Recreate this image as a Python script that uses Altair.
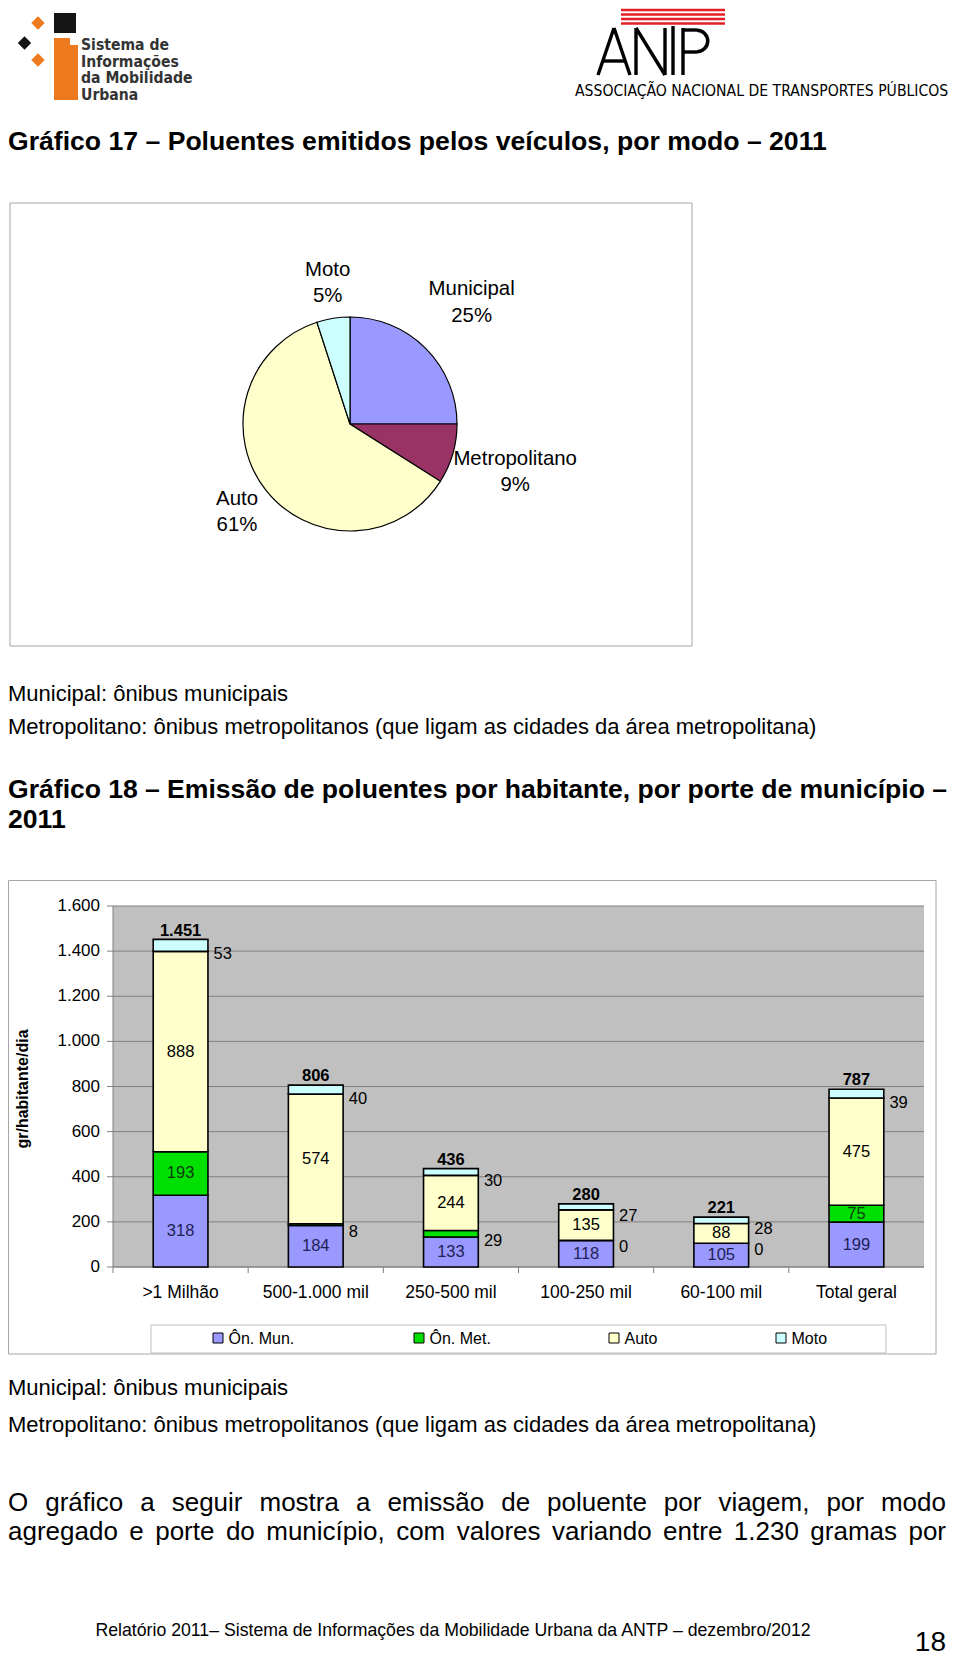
import altair as alt
import pandas as pd

# ---------------- data ----------------
pie_modes = ["Municipal", "Metropolitano", "Auto", "Moto"]
pie_share = [25, 9, 61, 5]
pie_colors = ["#9999FF", "#993366", "#FFFFCC", "#CCFFFF"]
pie_right = ["Municipal", "Metropolitano"]

cats = [">1 Milhão", "500-1.000 mil", "250-500 mil", "100-250 mil", "60-100 mil", "Total geral"]
series = ["Ôn. Mun.", "Ôn. Met.", "Auto", "Moto"]
mun = [318, 184, 133, 118, 105, 199]
met = [193, 8, 29, 0, 0, 75]
auto = [888, 574, 244, 135, 88, 475]
moto = [53, 40, 30, 27, 28, 39]
totals = [1451, 806, 436, 280, 221, 787]
y_ticks = [0, 200, 400, 600, 800, 1000, 1200, 1400, 1600]
bar_colors = ["#9999FF", "#00E000", "#FFFFCC", "#CCFFFF"]

title17 = "Gráfico 17 – Poluentes emitidos pelos veículos, por modo – 2011"
title18a = "Gráfico 18 – Emissão de poluentes por habitante, por porte de município –"
title18b = "2011"
note1 = "Municipal: ônibus municipais"
note2 = "Metropolitano: ônibus metropolitanos (que ligam as cidades da área metropolitana)"
para1 = "O gráfico a seguir mostra a emissão de poluente por viagem, por modo"
para2 = "agregado e porte do município, com valores variando entre 1.230 gramas por"
footer = "Relatório 2011– Sistema de Informações da Mobilidade Urbana da ANTP – dezembro/2012"
page_no = "18"
ytitle = "gr/habitante/dia"


def fmt(v):
    return f"{v:,}".replace(",", ".")


FONT = "Liberation Sans, Arial, Helvetica, sans-serif"
COND = "DejaVu Sans Condensed, Liberation Sans Narrow, Arial Narrow, Liberation Sans, sans-serif"
ORANGE = "#EE7A1F"
RED = "#E31E24"

# Arial / Liberation Sans advance widths (1/1000 em) for justification
REG = {' ': 278, '(': 333, ')': 333, ',': 278, '-': 333, '.': 278, '/': 278, ':': 278, '–': 556}
REG.update({d: 556 for d in "0123456789"})
REG.update(dict(zip("ABCDEFGHIJKLMNOPQRSTUVWXYZ",
                    [667, 667, 722, 722, 667, 611, 778, 722, 278, 500, 667, 556, 833, 722, 778, 667, 778, 722, 667, 611, 722, 667, 944, 667, 667, 611])))
REG.update(dict(zip("abcdefghijklmnopqrstuvwxyz",
                    [556, 556, 500, 556, 556, 278, 556, 556, 222, 222, 500, 222, 833, 556, 556, 556, 556, 333, 500, 278, 556, 500, 722, 500, 500, 500])))
REG.update({'á': 556, 'à': 556, 'â': 556, 'ã': 556, 'é': 556, 'ê': 556, 'í': 278, 'ó': 556, 'ô': 556, 'õ': 556, 'ú': 556, 'ç': 500})
BOLD = {' ': 278, '(': 333, ')': 333, ',': 278, '-': 333, '.': 278, '/': 278, ':': 333, '–': 556}
BOLD.update({d: 556 for d in "0123456789"})
BOLD.update(dict(zip("ABCDEFGHIJKLMNOPQRSTUVWXYZ",
                     [722, 722, 722, 722, 667, 611, 778, 722, 278, 556, 722, 611, 833, 722, 778, 667, 778, 722, 667, 611, 722, 667, 944, 667, 667, 611])))
BOLD.update(dict(zip("abcdefghijklmnopqrstuvwxyz",
                     [556, 611, 556, 611, 556, 333, 611, 611, 278, 278, 556, 278, 889, 611, 611, 611, 611, 389, 556, 333, 611, 556, 778, 556, 556, 500])))
BOLD.update({'á': 556, 'ã': 556, 'é': 556, 'í': 278, 'ó': 611, 'ô': 611, 'õ': 611, 'ú': 611, 'ç': 556})

dummy = pd.DataFrame({"d": [0]})
layers = []


def P(v):
    return v - 8


def T(s, x, y, size, bold=False, align="left", color="black", font=FONT, baseline="alphabetic", angle=0):
    props = dict(text=s, align=align, baseline=baseline, fontSize=size,
                 fontWeight="bold" if bold else "normal", font=font, color=color)
    if angle:
        props["angle"] = angle
    return alt.Chart(dummy).mark_text(**props).encode(x=alt.value(P(x)), y=alt.value(P(y)))


def R(x1, y1, x2, y2, fill="white", stroke=None, sw=1.0, fo=1.0):
    props = dict(fill=fill, fillOpacity=fo)
    if stroke:
        props.update(stroke=stroke, strokeWidth=sw)
    else:
        props.update(strokeWidth=0)
    return alt.Chart(dummy).mark_rect(**props).encode(
        x=alt.value(P(x1)), x2=alt.value(P(x2)), y=alt.value(P(y1)), y2=alt.value(P(y2)))


def L(x1, y1, x2, y2, color="black", sw=1.0):
    return alt.Chart(dummy).mark_rule(color=color, strokeWidth=sw).encode(
        x=alt.value(P(x1)), y=alt.value(P(y1)), x2=alt.value(P(x2)), y2=alt.value(P(y2)))


def justify(line, x0, x1, base, size, bold=False):
    tbl = BOLD if bold else REG
    words = line.split(" ")
    ws = [sum(tbl.get(ch, 556) for ch in w) / 1000 * size for w in words]
    gap = (x1 - x0 - sum(ws)) / (len(words) - 1)
    out = []
    x = x0
    for i, (w, wd) in enumerate(zip(words, ws)):
        if i == len(words) - 1:
            out.append(T(w, x1, base, size, bold, align="right"))
        else:
            out.append(T(w, x, base, size, bold))
        x += wd + gap
    return out


# ---------------- logos ----------------
layers.append(R(54, 13, 76, 33, fill="#151515"))
for cx, cy, col in [(38, 23, ORANGE), (24.5, 43, "#151515"), (38, 60, ORANGE)]:
    layers.append(alt.Chart(dummy).mark_square(size=90, angle=45, color=col, opacity=1).encode(
        x=alt.value(P(cx)), y=alt.value(P(cy))))
layers.append(R(54, 38, 78, 100, fill=ORANGE))
layers.append(R(70, 38, 78, 45, fill="white"))
for s, b in [("Sistema de", 50), ("Informações", 66.5), ("da Mobilidade", 83), ("Urbana", 99.5)]:
    layers.append(T(s, 81, b, 15.6, bold=True, color="#333333", font=COND))

for yy in [10, 14.5, 19, 23.5]:
    layers.append(L(621, yy, 725, yy, color=RED, sw=2.5))
for seg in [(598, 75, 614, 28), (614, 28, 630, 75), (604, 61, 625, 61),
            (636, 28, 636, 75), (665, 28, 665, 75), (636, 28, 665, 75),
            (673, 26, 673, 75), (683, 28, 683, 75), (683, 30, 697, 30), (683, 52, 697, 52)]:
    layers.append(L(*seg, color="black", sw=3.4))
layers.append(alt.Chart(dummy).mark_arc(theta=0, theta2=3.14159, radius=12.5, radius2=9, color="black").encode(
    x=alt.value(P(697)), y=alt.value(P(41))))
layers.append(T("ASSOCIAÇÃO NACIONAL DE TRANSPORTES PÚBLICOS", 575, 96, 15.6, font=COND))

# ---------------- texts ----------------
layers.append(T(title17, 8, 150, 26.6, bold=True))
layers.append(T(note1, 8, 701, 22))
layers.append(T(note2, 8, 734, 22))
layers += justify(title18a, 8, 947, 798, 26.6, bold=True)
layers.append(T(title18b, 8, 828, 26.6, bold=True))
layers.append(T(note1, 8, 1395, 22))
layers.append(T(note2, 8, 1432, 22))
layers += justify(para1, 8, 946, 1511, 26)
layers += justify(para2, 8, 946, 1540, 26)
layers.append(T(footer, 453, 1636, 17.7, align="center"))
layers.append(T(page_no, 946, 1651, 28, align="right"))

# ---------------- pie ----------------
pie_lab = [f"{m}\n{s}%" for m, s in zip(pie_modes, pie_share)]
pie_df = pd.DataFrame({
    "mode": pie_modes, "share": pie_share, "k": list(range(len(pie_modes))),
    "lab_r": [l if m in pie_right else "" for m, l in zip(pie_modes, pie_lab)],
    "lab_l": [l if m not in pie_right else "" for m, l in zip(pie_modes, pie_lab)],
})
layers.append(R(10, 203, 692, 646, fill="white", stroke="#A6A6A6", sw=1))
pie_base = alt.Chart(pie_df).encode(
    theta=alt.Theta("share:Q", stack=True),
    order=alt.Order("k:Q", sort="ascending"),
    x=alt.value(P(350)), y=alt.value(P(424)),
)
layers.append(pie_base.mark_arc(radius=107, stroke="black", strokeWidth=1.2).encode(
    color=alt.Color("mode:N", scale=alt.Scale(domain=pie_modes, range=pie_colors), legend=None)))
pie_txt = dict(fontSize=20.4, font=FONT, lineBreak="\n", lineHeight=26.5, baseline="middle", color="black", dy=-13)
layers.append(pie_base.mark_text(radius=172, **pie_txt).encode(text="lab_r:N"))
layers.append(pie_base.mark_text(radius=143, **pie_txt).encode(text="lab_l:N"))

# ---------------- stacked bars ----------------
rows = []
for i, c in enumerate(cats):
    base = 0
    for k, (s, arr) in enumerate(zip(series, [mun, met, auto, moto])):
        v = arr[i]
        rows.append(dict(cat=c, serie=s, v=v, y0=base, y1=base + v, mid=base + v / 2, lab=str(v), k=k))
        base += v
df = pd.DataFrame(rows)
tick_df = pd.DataFrame({"v": y_ticks, "lab": [fmt(v) for v in y_ticks]})
cat_df = pd.DataFrame({"cat": cats})
tot_df = pd.DataFrame({"cat": cats, "t": totals, "lab": [fmt(t) for t in totals]})

xsc = alt.Scale(domain=cats, range=[P(113), P(924)], paddingInner=0, paddingOuter=0)
ysc = alt.Scale(domain=[0, 1600], range=[P(1267), P(906)], nice=False, zero=False)


def X(**kw):
    return alt.X("cat:N", scale=xsc, axis=None, **kw)


def Yf(f):
    return alt.Y(f, scale=ysc, axis=None)


layers.append(R(8.5, 880.5, 936, 1354, fill="white", stroke="#A6A6A6", sw=1))
layers.append(R(113, 906, 924, 1267, fill="#C0C0C0"))
layers.append(alt.Chart(tick_df).mark_rule(color="#808080", strokeWidth=1).encode(
    y=Yf("v:Q"), x=alt.value(P(113)), x2=alt.value(P(924))))
layers.append(alt.Chart(tick_df).mark_rule(color="#808080", strokeWidth=1).encode(
    y=Yf("v:Q"), x=alt.value(P(107)), x2=alt.value(P(113))))
layers.append(alt.Chart(tick_df).mark_text(align="right", baseline="middle", fontSize=17, font=FONT, color="black").encode(
    y=Yf("v:Q"), x=alt.value(P(100)), text="lab:N"))
layers.append(L(113, 906, 113, 1267, color="#808080", sw=1))
layers.append(L(113, 1267, 924, 1267, color="#808080", sw=1))
layers.append(alt.Chart(cat_df).mark_rule(color="#808080", strokeWidth=1).encode(
    x=X(bandPosition=0), y=alt.value(P(1267)), y2=alt.value(P(1273))))
layers.append(alt.Chart(cat_df).mark_text(baseline="alphabetic", fontSize=17.5, font=FONT, color="black").encode(
    x=X(), y=alt.value(P(1298)), text="cat:N"))
layers.append(T(ytitle, 23, 1089, 16, bold=True, align="center", baseline="middle", angle=270))

layers.append(alt.Chart(df).mark_bar(width=alt.RelativeBandSize(0.405), stroke="black", strokeWidth=1.6).encode(
    x=X(), y=Yf("y0:Q"), y2=alt.Y2("y1:Q"),
    color=alt.Color("serie:N", scale=alt.Scale(domain=series, range=bar_colors), legend=None)))

lab_props = dict(baseline="middle", fontSize=16.5, font=FONT)
layers.append(alt.Chart(df[df.serie == "Ôn. Mun."]).mark_text(color="#1F2155", **lab_props).encode(
    x=X(), y=Yf("mid:Q"), text="lab:N"))
layers.append(alt.Chart(df[(df.serie == "Ôn. Met.") & (df.v >= 50)]).mark_text(color="#0E3B0E", **lab_props).encode(
    x=X(), y=Yf("mid:Q"), text="lab:N"))
layers.append(alt.Chart(df[df.serie == "Auto"]).mark_text(color="black", **lab_props).encode(
    x=X(), y=Yf("mid:Q"), text="lab:N"))
layers.append(alt.Chart(df[(df.serie == "Ôn. Met.") & (df.v < 50)]).mark_text(
    color="black", align="left", dx=33, dy=7, **lab_props).encode(x=X(), y=Yf("mid:Q"), text="lab:N"))
layers.append(alt.Chart(df[df.serie == "Moto"]).mark_text(
    color="black", align="left", dx=33, dy=9, **lab_props).encode(x=X(), y=Yf("mid:Q"), text="lab:N"))
layers.append(alt.Chart(tot_df).mark_text(color="black", fontWeight="bold", dy=-9, **lab_props).encode(
    x=X(), y=Yf("t:Q"), text="lab:N"))

# legend
layers.append(R(151, 1325, 886, 1353, fill="white", stroke="#BFBFBF", sw=1))
for s, col, lx in zip(series, bar_colors, [213, 414, 609, 776]):
    layers.append(R(lx, 1333, lx + 10, 1343, fill=col, stroke="black", sw=1))
    layers.append(T(s, lx + 15.5, 1338.5, 16, baseline="middle"))

chart = alt.layer(*layers).resolve_scale(color="independent").properties(
    width=944, height=1650, padding=0, autosize=alt.AutoSizeParams(type="none")
).configure_view(stroke=None)

chart.save("out.html", embed_options={"renderer": "svg", "actions": False})
